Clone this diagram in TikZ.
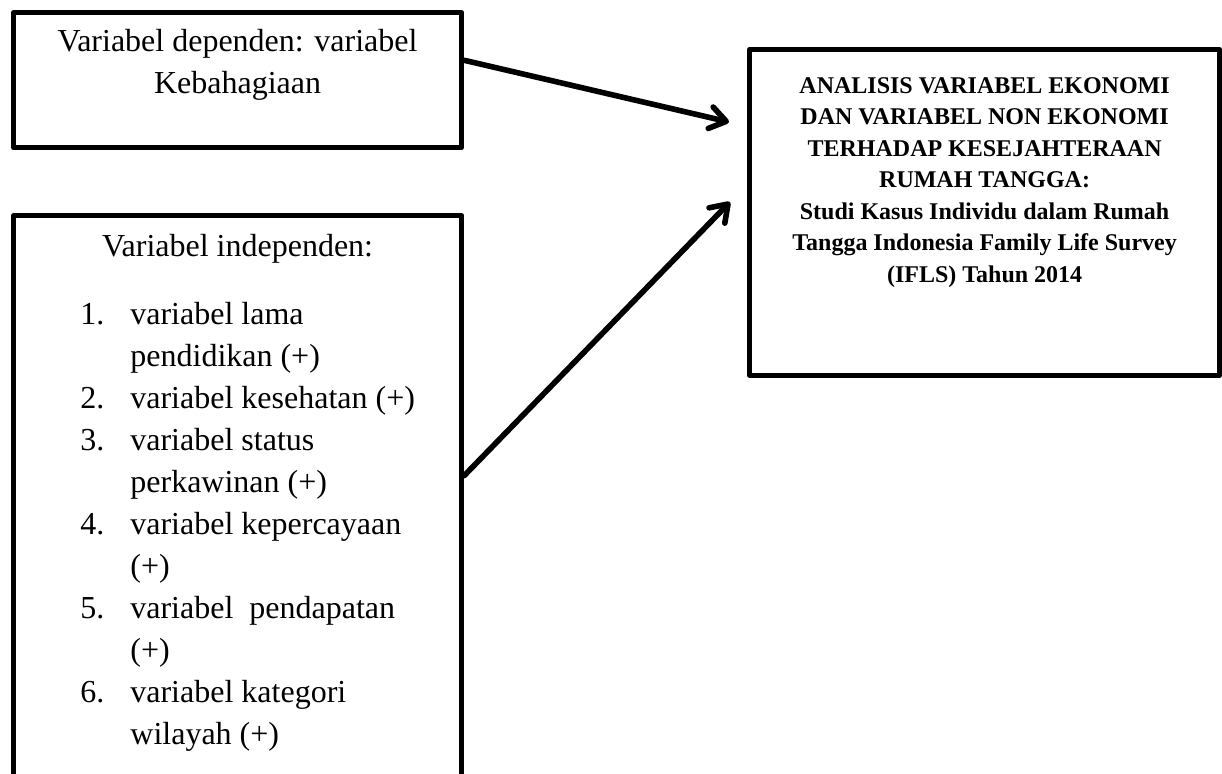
\documentclass[tikz,border=0pt]{standalone}
\usepackage{fontspec}
\setmainfont{Liberation Serif}
\usetikzlibrary{positioning,arrows.meta}

\begin{document}
\begin{tikzpicture}[x=0.5pt,y=-0.5pt,
						box/.style={draw,line width=2.6pt,line join=round,inner sep=0pt,anchor=north west},
						plain/.style={font=\fontsize{16}{21}\selectfont,align=center,inner sep=0pt},
						list/.style={font=\fontsize{16}{21}\selectfont,align=left,inner sep=0pt},
						heavy/.style={font=\fontsize{12}{15.75}\selectfont\bfseries,align=center,inner sep=0pt},
						arr/.style={-{Straight Barb[length=8pt,width=11pt,round]},line width=2.8pt,line cap=round,line join=round}]
		\clip (0,0) rectangle (1222,773);

		\node[box,minimum width=224pt,minimum height=67.5pt]	(dep)		at (11,10)	{};
		\node[box,minimum width=224pt,minimum height=300pt]	(indep)		at (11,213)	{};
		\node[box,minimum width=235pt,minimum height=162.75pt]	(judul)		at (747,47)	{};

		\node[plain,below=9.4pt of dep.north]		(deptext)	{Variabel dependen: variabel\\Kebahagiaan};
		\node[plain,below=10.4pt of indep.north]	(indeptext)	{Variabel independen:};
		\node[list,below right=44.5pt and 34.5pt of indep.north west]	(daftar)
			{\makebox[25pt][l]{1.}variabel lama\\
			 \hspace*{25pt}pendidikan (+)\\
			 \makebox[25pt][l]{2.}variabel kesehatan (+)\\
			 \makebox[25pt][l]{3.}variabel status\\
			 \hspace*{25pt}perkawinan (+)\\
			 \makebox[25pt][l]{4.}variabel kepercayaan\\
			 \hspace*{25pt}(+)\\
			 \makebox[25pt][l]{5.}variabel~~pendapatan\\
			 \hspace*{25pt}(+)\\
			 \makebox[25pt][l]{6.}variabel kategori\\
			 \hspace*{25pt}wilayah (+)};
		\node[heavy,below=14.9pt of judul.north]	(judultext)
			{ANALISIS VARIABEL EKONOMI\\
			 DAN VARIABEL NON EKONOMI\\
			 TERHADAP KESEJAHTERAAN\\
			 RUMAH TANGGA:\\
			 Studi Kasus Individu dalam Rumah\\
			 Tangga Indonesia Family Life Survey\\
			 (IFLS) Tahun 2014};

		\coordinate (ujung1) at (729,122);
		\coordinate (ujung2) at (730,202);

		\draw[arr] (dep.5) -- (ujung1);
		\draw[arr] (indep.10) -- (ujung2);
	\end{tikzpicture}
\end{document}
